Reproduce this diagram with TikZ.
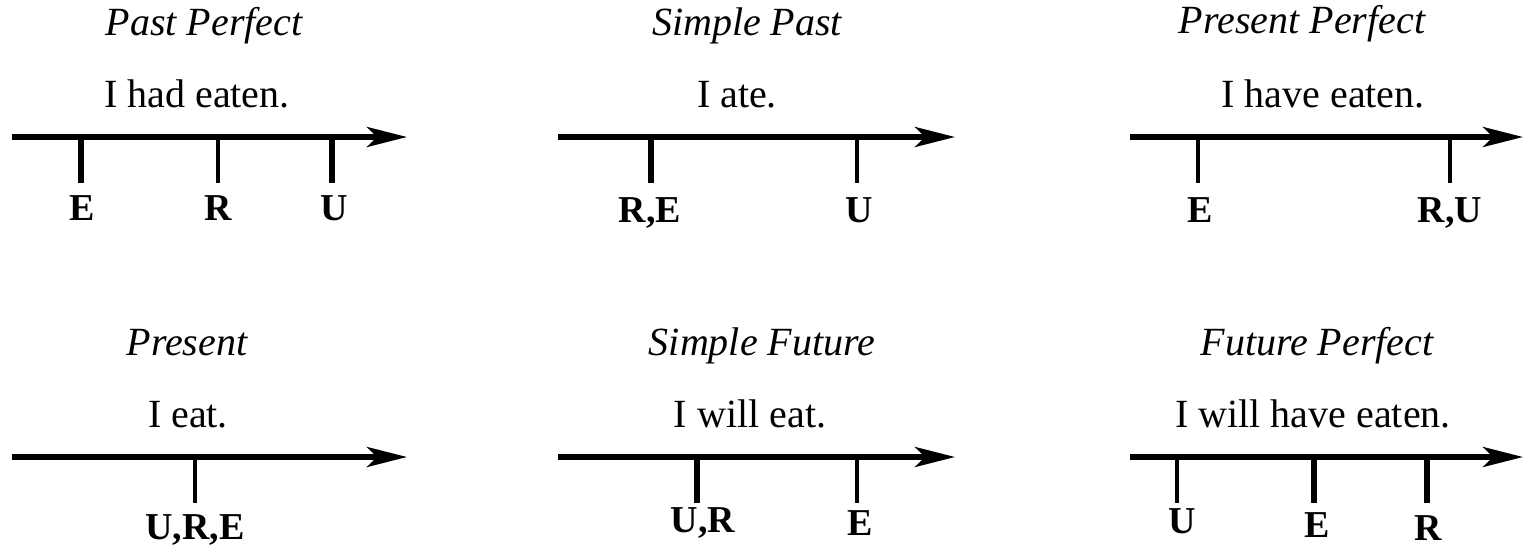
\documentclass[tikz,border=0pt]{standalone}
\usepackage{fontspec}
\setmainfont{Liberation Serif}
\usepackage{tikz}
\usetikzlibrary{arrows.meta, positioning}

\begin{document}
\begin{tikzpicture}[
  x=0.5pt, y=-0.5pt,
  axis/.style={line width=2.6pt, -{Stealth[length=20pt, width=10pt, inset=5pt]}},
  thicktick/.style={line width=2.8pt},
  thintick/.style={line width=1.7pt},
  tense/.style={font=\fontsize{20}{22}\selectfont\itshape, anchor=base, inner sep=0pt},
  sentence/.style={font=\fontsize{20}{22}\selectfont, anchor=base, inner sep=0pt},
  pointlbl/.style={font=\fontsize{19}{21}\selectfont\bfseries, anchor=base, inner sep=0pt},
]
\useasboundingbox (0,0) rectangle (1525,547);

% ---- top row ----
\node[tense] (pptitle) at (204,35) {Past Perfect};
\node[sentence] (ppsent) at (197,107) {I had eaten.};
\coordinate (ppstart) at (12,137);
\coordinate (ppend) at (407,137);
\draw[axis] (ppstart) -- (ppend);
\foreach \x/\lx/\w/\lbl in {81/82/thicktick/E, 218/218/thintick/R, 332/334/thicktick/U} {
  \draw[\w] (\x,137) -- ++(0,46);
  \node[pointlbl] at (\lx,220) {\lbl};
}

\node[tense] (sptitle) at (747,35) {Simple Past};
\node[sentence] (spsent) at (737,107) {I ate.};
\coordinate (spstart) at (558,137);
\coordinate (spend) at (955,137);
\draw[axis] (spstart) -- (spend);
\foreach \x/\lx/\w/\lbl in {651/650/thicktick/{R,E}, 857/859/thintick/U} {
  \draw[\w] (\x,137) -- ++(0,46);
  \node[pointlbl] at (\lx,222) {\lbl};
}

\node[tense] (prptitle) at (1302,33) {Present Perfect};
\node[sentence] (prpsent) at (1323,107) {I have eaten.};
\coordinate (prpstart) at (1130,137);
\coordinate (prpend) at (1523,137);
\draw[axis] (prpstart) -- (prpend);
\foreach \x/\lx/\w/\lbl in {1198/1200/thintick/E, 1450/1450/thintick/{R,U}} {
  \draw[\w] (\x,137) -- ++(0,46);
  \node[pointlbl] at (\lx,222) {\lbl};
}

% ---- bottom row ----
\node[tense] (prtitle) at (187,355) {Present};
\node[sentence] (prsent) at (188,427) {I eat.};
\coordinate (prstart) at (12,457);
\coordinate (prend) at (407,457);
\draw[axis] (prstart) -- (prend);
\draw[thintick] (195,457) -- ++(0,46);
\node[pointlbl] (prlbl) at (195,539) {U,R,E};

\node[tense] (sftitle) at (762,355) {Simple Future};
\node[sentence] (sfsent) at (750,427) {I will eat.};
\coordinate (sfstart) at (558,457);
\coordinate (sfend) at (955,457);
\draw[axis] (sfstart) -- (sfend);
\foreach \x/\lx/\ly/\w/\lbl in {697/703/532/thicktick/{U,R}, 857/860/535/thintick/E} {
  \draw[\w] (\x,457) -- ++(0,46);
  \node[pointlbl] at (\lx,\ly) {\lbl};
}

\node[tense] (fptitle) at (1317,355) {Future Perfect};
\node[sentence] (fpsent) at (1313,427) {I will have eaten.};
\coordinate (fpstart) at (1130,457);
\coordinate (fpend) at (1523,457);
\draw[axis] (fpstart) -- (fpend);
\foreach \x/\lx/\ly/\w/\lbl in {1177/1182/533/thintick/U, 1314/1317/537/thicktick/E, 1427/1428/540/thicktick/R} {
  \draw[\w] (\x,457) -- ++(0,46);
  \node[pointlbl] at (\lx,\ly) {\lbl};
}

\end{tikzpicture}
\end{document}
